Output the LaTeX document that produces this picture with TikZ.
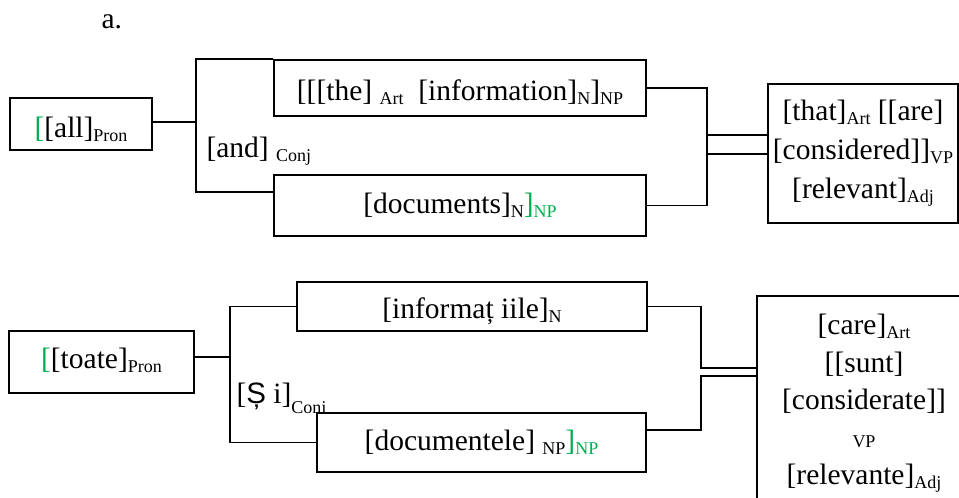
\documentclass[tikz,border=0pt]{standalone}
\usepackage{fontspec}
\setmainfont{Liberation Serif}
\newfontfamily\sansS{Liberation Sans}
\definecolor{wgreen}{RGB}{0,176,80}
% small lowered category label after a bracket
\newcommand\sbt[1]{\raisebox{-0.14em}{\fontsize{18}{20}\selectfont #1}}
\begin{document}
\begin{tikzpicture}[x=1pt,y=-1pt,
  box/.style={draw,line width=2pt,inner sep=0pt,fill=white},
  wire/.style={line width=1.9pt},
  every node/.style={font=\fontsize{29.5}{39}\selectfont}]
\useasboundingbox (0,0) rectangle (959,498);
\clip (0,0) rectangle (959,498);

\node[anchor=base west] (tag) at (98,28) {a.};

% ---- English analysis ----
\node[box,minimum width=142pt,minimum height=52pt,text height=30pt,text depth=4pt]
  (all) at (81,124) {\textcolor{wgreen}{[}[all]\sbt{Pron}};
\node[box,minimum width=372pt,minimum height=56pt,text height=28pt,text depth=4pt]
  (info) at (460,88) {[[[the] \sbt{Art}\ \ [information]\sbt{N}]\sbt{NP}};
\node[box,minimum width=372pt,minimum height=61pt,text height=22pt,text depth=7pt]
  (docs) at (460,205.5) {[documents]\sbt{N}\textcolor{wgreen}{]\sbt{NP}}};
\node[box,align=center,minimum width=190pt,minimum height=139pt]
  (that) at (863,153.5) {[that]\sbt{Art} [[are]\\{}[considered]]\sbt{VP}\\{}[relevant]\sbt{Adj}};
\node[anchor=base west] (and) at (203,157) {[and] \sbt{Conj}};

\coordinate (ta) at (196,0);
\coordinate (tb) at (196,192);
\draw[wire] ([yshift=2pt]all.east) -- ([yshift=2pt]all.east -| ta);
\draw[wire] (info.north west) -- (info.north west -| ta) -- (tb) -- (tb -| docs.west);

\coordinate (tj) at (707,0);
\coordinate (tj1) at (707,135);
\coordinate (tj2) at (707,154);
\draw[wire] (info.east) -- (info.east -| tj) -- (docs.east -| tj) -- (docs.east);
\draw[wire] (tj1) -- (tj1 -| that.west);
\draw[wire] (tj2) -- (tj2 -| that.west);

% ---- Romanian analysis ----
\node[box,minimum width=185pt,minimum height=62pt,text height=20pt,text depth=8pt]
  (toate) at (101.5,362) {\textcolor{wgreen}{[}[toate]\sbt{Pron}};
\node[box,minimum width=350pt,minimum height=49pt,text height=27pt,text depth=4pt]
  (info2) at (472,306.5) {[informaț iile]\sbt{N}};
\node[anchor=base west] (si) at (233,403)
  {[{\sansS Ș} i]\raisebox{-10pt}{\fontsize{18}{20}\selectfont Conj}};
\node[box,minimum width=329pt,minimum height=59pt,text height=22pt,text depth=7pt]
  (docs2) at (481.5,442.5) {[documentele] \sbt{NP}\textcolor{wgreen}{]\sbt{NP}}};
\node[box,align=center,minimum width=214pt,minimum height=215pt,anchor=north west,
  font=\fontsize{29.5}{37.5}\selectfont]
  (rel) at (756,295) {[care]\sbt{Art}\\{}[[sunt]\\{}[considerate]]\\{\fontsize{18}{20}\selectfont VP}\\{}[relevante]\sbt{Adj}};

\coordinate (bb) at (230,0);
\draw[wire] ([yshift=5pt]toate.east) -- ([yshift=5pt]toate.east -| bb);
\draw[wire] (info2.west) -- (info2.west -| bb) -- (docs2.west -| bb) -- (docs2.west);

\coordinate (bc) at (701,0);
\coordinate (bc1) at (701,368);
\coordinate (bc2) at (701,376);
\draw[wire] (info2.east) -- (info2.east -| bc) -- (bc1) -- (bc1 -| rel.west);
\draw[wire] ([yshift=12.5pt]docs2.east) -- ([yshift=12.5pt]docs2.east -| bc) -- (bc2) -- (bc2 -| rel.west);
\end{tikzpicture}
\end{document}
